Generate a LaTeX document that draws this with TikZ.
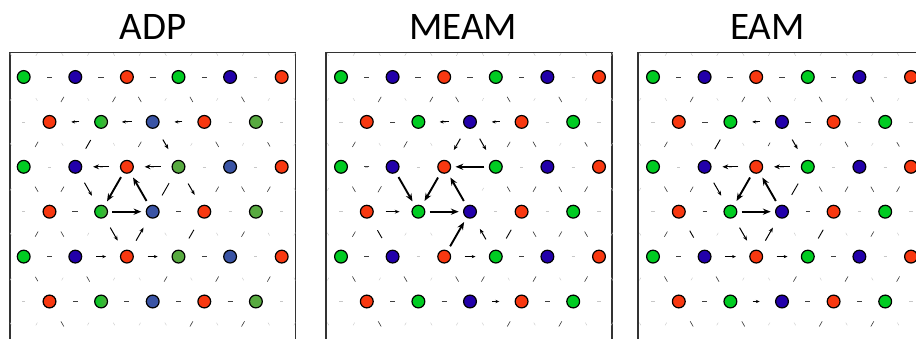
\documentclass[tikz,border=0pt]{standalone}
\usepackage{fontspec}
\setmainfont{Carlito}
\usetikzlibrary{arrows.meta}
\definecolor{gB}{RGB}{0,204,34}
\definecolor{bB}{RGB}{34,0,170}
\definecolor{rR}{RGB}{248,56,16}
\definecolor{gM}{RGB}{88,170,64}
\definecolor{bM}{RGB}{58,84,165}
\tikzset{
 atom/.style={circle, draw=black, line width=1.2pt, minimum size=12.8pt, inner sep=0pt},
 atG/.style={atom, fill=gB}, atB/.style={atom, fill=bB}, atR/.style={atom, fill=rR},
 atGM/.style={atom, fill=gM}, atBM/.style={atom, fill=bM},
 atGH/.style={atom, left color=gB, right color=gM},
 arF/.style={draw=black!22, line width=.4pt},
 arS/.style={draw=black!75, line width=.6pt},
 arL/.style={draw=black, line width=.9pt},
 arA/.style={draw=black, line width=.8pt, -{Stealth[length=3.8pt,width=3.2pt]}},
 arM/.style={draw=black, line width=1pt, -{Stealth[length=4.8pt,width=3.8pt]}},
 arb/.style={draw=black, line width=1.4pt, -{Stealth[length=5.8pt,width=4.8pt]}},
 arBig/.style={draw=black, line width=1.9pt, -{Stealth[length=7.8pt,width=6.2pt]}},
 frame/.style={draw=black!80, line width=1.3pt},
 title/.style={font=\fontsize{39}{44}\selectfont, anchor=base, inner sep=0pt}
}
\newcommand\ddmarks[1]{%
 \foreach \k/\r/\dk/\dr/\L/\s in {#1}{%
  \pgfmathsetmacro\ff{\L/51.7/2}%
  \draw[\s] ({\k-\ff*(\dk)},{\r-\ff*(\dr)}) -- ({\k+\ff*(\dk)},{\r+\ff*(\dr)});
 }}
\newcommand\faintmarks{%
 \foreach \r in {0.5,1.5,...,6.5}{\foreach \k in {-0.5,0.5,...,10.5}{%
   \pgfmathsetmacro\sg{ifthenelse(mod(floor(\k)+floor(\r)+10,2)==1,1,-1)}%
   \draw[arF] ({\k-0.03*\sg},{\r-0.03}) -- ({\k+0.03*\sg},{\r+0.03});}}
 \foreach \r in {1,3,5}{\foreach \k in {1,3,...,9}{\draw[arF] ({\k-0.06},\r) -- ({\k+0.06},\r);}}
 \foreach \r in {2,4,6}{\foreach \k in {0,2,...,10}{\draw[arF] ({\k-0.06},\r) -- ({\k+0.06},\r);}}
}
\newcommand\atomrow[3]{\foreach \k/\c in {#3}{\node[\c] (#1-#2-\k) at (\k,#2) {};}}
\begin{document}
\begin{tikzpicture}[x=1pt,y=-1pt]
\useasboundingbox (0,0) rectangle (916,339);
\clip (0,0) rectangle (916,339);
\fill[white] (0,0) rectangle (916,339);
% titles
\node[title] (tADP) at (152.8,40) {ADP};
\node[title] (tMEAM) at (463,40) {MEAM};
\node[title] (tEAM) at (767.5,40) {EAM};
% frames
\draw[frame] (10,345) -- (10,52.7) -- (295.5,52.7) -- (295.5,345);
\draw[frame] (326,345) -- (326,52.7) -- (612,52.7) -- (612,345);
\draw[frame] (638,345) -- (638,52.7) -- (930,52.7) -- (930,345);
% ---------------- ADP
\begin{scope}[shift={(23.7pt,-32.1pt)}, x=25.8pt, y=-44.9pt]
\faintmarks
\ddmarks{1/1/2/0/5/arS, 3/1/2/0/6/arS, 5/1/2/0/6/arS, 7/1/2/0/5/arS,
1.5/1.5/-1/1/6/arS, 3.5/1.5/-1/1/6/arS, 4.5/1.5/1/1/6/arS, 6.5/1.5/1/1/6/arS, 8.5/1.5/1/1/6/arS,
2/2/-2/0/8/arA, 4/2/-2/0/10/arA, 6/2/-2/0/8/arA,
0.5/2.5/-1/1/6/arS, 2.5/2.5/-1/1/10/arL, 4.5/2.5/-1/1/6/arS, 5.5/2.5/1/1/11/arM, 7.5/2.5/1/1/6/arS, 9.5/2.5/1/1/5/arS,
3/3/-2/0/16/arb, 5/3/-2/0/16/arb,
0.5/3.5/1/1/6/arS, 1.5/3.5/-1/1/6/arS, 2.5/3.5/1/1/15/arM, 3.5/3.5/-1/1/28/arBig, 4.5/3.5/-1/-1/27/arBig, 5.5/3.5/1/-1/14/arL, 6.5/3.5/1/1/13/arM, 7.5/3.5/-1/1/6/arS, 8.5/3.5/1/1/6/arS, 9.5/3.5/-1/1/6/arS,
2/4/2/0/6/arS, 4/4/2/0/29/arBig, 6/4/2/0/5/arS,
0.5/4.5/-1/1/6/arS, 1.5/4.5/1/1/6/arS, 3.5/4.5/1/1/15/arM, 4.5/4.5/1/-1/15/arM, 6.5/4.5/1/-1/10/arL, 8.5/4.5/-1/1/6/arS,
1/5/2/0/5/arS, 3/5/2/0/10/arA, 5/5/2/0/10/arA, 7/5/2/0/5/arS,
0.5/5.5/1/1/5/arS, 2.5/5.5/1/1/6/arS, 5.5/5.5/-1/1/6/arS, 7.5/5.5/-1/1/6/arS, 9.5/5.5/-1/1/6/arS,
2/6/2/0/5/arS, 4/6/2/0/5/arS, 6/6/2/0/5/arS, 8/6/2/0/5/arS,
1.5/6.5/1/1/6/arS, 6.5/6.5/-1/1/6/arS, 8.5/6.5/-1/1/6/arS}
\atomrow{A}{1}{0/atG,2/atB,4/atR,6/atG,8/atB,10/atR}
\atomrow{A}{2}{1/atR,3/atGH,5/atBM,7/atR,9/atGM}
\atomrow{A}{3}{0/atG,2/atB,4/atR,6/atGM,8/atBM,10/atR}
\atomrow{A}{4}{1/atR,3/atGH,5/atBM,7/atR,9/atGM}
\atomrow{A}{5}{0/atG,2/atB,4/atR,6/atGM,8/atBM,10/atR}
\atomrow{A}{6}{1/atR,3/atGH,5/atBM,7/atR,9/atGM}
\end{scope}
% ---------------- MEAM
\begin{scope}[shift={(341pt,-32.1pt)}, x=25.8pt, y=-44.9pt]
\faintmarks
\ddmarks{1/1/2/0/5/arS, 3/1/2/0/6/arS, 5/1/2/0/6/arS, 7/1/2/0/5/arS,
1.5/1.5/-1/1/6/arS, 3.5/1.5/-1/1/6/arS, 4.5/1.5/1/1/6/arS, 6.5/1.5/1/1/6/arS, 8.5/1.5/1/1/6/arS,
2/2/-2/0/5/arS, 4/2/-2/0/9/arA, 6/2/-2/0/8/arA,
0.5/2.5/-1/1/6/arS, 2.5/2.5/-1/1/7/arS, 4.5/2.5/-1/1/13/arM, 5.5/2.5/1/1/13/arM, 6.5/2.5/-1/1/6/arS, 7.5/2.5/1/1/6/arS, 9.5/2.5/1/1/5/arS,
1/3/-2/0/5/arS, 5/3/-2/0/29/arBig,
0.5/3.5/1/1/6/arS, 1.5/3.5/-1/1/7/arS, 2.5/3.5/1/1/28/arBig, 3.5/3.5/-1/1/27/arBig, 4.5/3.5/-1/-1/27/arBig, 6.5/3.5/1/1/6/arS, 7.5/3.5/-1/1/6/arS, 8.5/3.5/1/1/6/arS, 9.5/3.5/-1/1/6/arS,
2/4/2/0/14/arM, 4/4/2/0/29/arBig,
0.5/4.5/-1/1/6/arS, 1.5/4.5/1/1/9/arL, 4.5/4.5/1/-1/28/arBig, 5.5/4.5/-1/-1/12/arM, 6.5/4.5/1/-1/10/arL, 7.5/4.5/1/1/6/arS, 8.5/4.5/-1/1/6/arS, 9.5/4.5/1/1/6/arS,
1/5/2/0/5/arS, 5/5/2/0/11/arA, 7/5/2/0/5/arS,
0.5/5.5/1/1/6/arS, 2.5/5.5/1/1/6/arS, 4.5/5.5/1/1/6/arS, 5.5/5.5/-1/1/6/arS, 7.5/5.5/-1/1/6/arS, 9.5/5.5/-1/1/6/arS,
2/6/2/0/5/arS, 4/6/2/0/5/arS, 6/6/2/0/7/arA, 8/6/2/0/5/arS,
1.5/6.5/1/1/6/arS, 6.5/6.5/-1/1/6/arS, 8.5/6.5/-1/1/6/arS}
\atomrow{M}{1}{0/atG,2/atB,4/atR,6/atG,8/atB,10/atR}
\atomrow{M}{2}{1/atR,3/atG,5/atB,7/atR,9/atG}
\atomrow{M}{3}{0/atG,2/atB,4/atR,6/atG,8/atB,10/atR}
\atomrow{M}{4}{1/atR,3/atG,5/atB,7/atR,9/atG}
\atomrow{M}{5}{0/atG,2/atB,4/atR,6/atG,8/atB,10/atR}
\atomrow{M}{6}{1/atR,3/atG,5/atB,7/atR,9/atG}
\end{scope}
% ---------------- EAM
\begin{scope}[shift={(653pt,-32.1pt)}, x=25.8pt, y=-44.9pt]
\faintmarks
\ddmarks{1/1/2/0/5/arS, 3/1/2/0/6/arS, 5/1/2/0/6/arS, 7/1/2/0/5/arS,
1.5/1.5/-1/1/6/arS, 3.5/1.5/-1/1/6/arS, 4.5/1.5/1/1/6/arS, 6.5/1.5/1/1/6/arS, 8.5/1.5/1/1/6/arS,
2/2/-2/0/6/arS, 4/2/-2/0/8/arA, 6/2/-2/0/6/arS,
0.5/2.5/-1/1/6/arS, 2.5/2.5/-1/1/11/arL, 4.5/2.5/-1/1/4/arS, 5.5/2.5/1/1/11/arM, 7.5/2.5/1/1/6/arS, 9.5/2.5/1/1/5/arS,
3/3/-2/0/16/arb, 5/3/-2/0/16/arb,
0.5/3.5/1/1/6/arS, 1.5/3.5/-1/1/6/arS, 2.5/3.5/1/1/15/arM, 3.5/3.5/-1/1/27/arBig, 4.5/3.5/-1/-1/27/arBig, 5.5/3.5/1/-1/13/arL, 6.5/3.5/1/1/6/arS, 7.5/3.5/-1/1/6/arS, 8.5/3.5/1/1/6/arS, 9.5/3.5/-1/1/6/arS,
2/4/2/0/4/arS, 4/4/2/0/29/arBig, 6/4/2/0/4/arS,
0.5/4.5/-1/1/6/arS, 1.5/4.5/1/1/8/arL, 3.5/4.5/1/1/15/arM, 4.5/4.5/1/-1/15/arM, 6.5/4.5/1/-1/10/arL, 8.5/4.5/-1/1/6/arS,
1/5/2/0/5/arS, 3/5/2/0/11/arA, 5/5/2/0/11/arA, 7/5/2/0/5/arS,
0.5/5.5/1/1/6/arS, 2.5/5.5/1/1/6/arS, 5.5/5.5/-1/1/6/arS, 7.5/5.5/-1/1/6/arS, 9.5/5.5/-1/1/6/arS,
2/6/2/0/5/arS, 4/6/2/0/7/arA, 6/6/2/0/5/arS, 8/6/2/0/5/arS,
1.5/6.5/1/1/6/arS, 3.5/6.5/1/1/6/arS, 6.5/6.5/-1/1/6/arS, 8.5/6.5/-1/1/6/arS}
\atomrow{E}{1}{0/atG,2/atB,4/atR,6/atG,8/atB,10/atR}
\atomrow{E}{2}{1/atR,3/atG,5/atB,7/atR,9/atG}
\atomrow{E}{3}{0/atG,2/atB,4/atR,6/atG,8/atB,10/atR}
\atomrow{E}{4}{1/atR,3/atG,5/atB,7/atR,9/atG}
\atomrow{E}{5}{0/atG,2/atB,4/atR,6/atG,8/atB,10/atR}
\atomrow{E}{6}{1/atR,3/atG,5/atB,7/atR,9/atG}
\end{scope}
\end{tikzpicture}
\end{document}
